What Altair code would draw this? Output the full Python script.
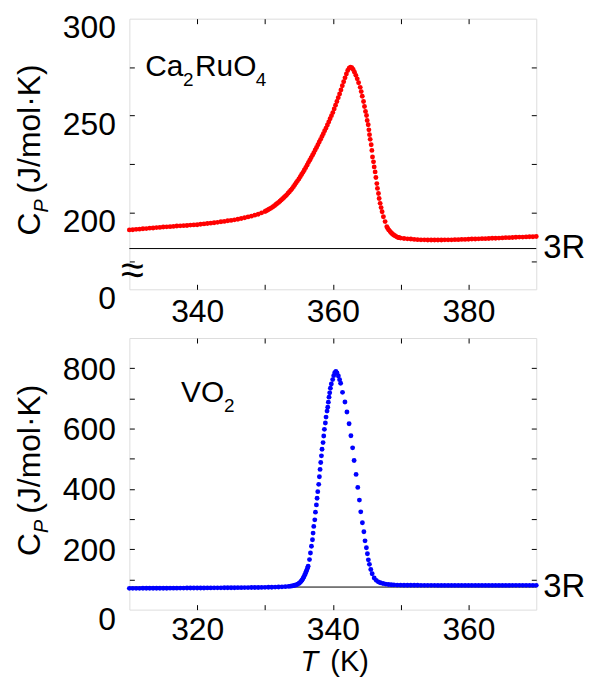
import altair as alt
import pandas as pd

FONT = "Liberation Sans"

# ---------------- Ca2RuO4 (top panel) ----------------
ca_T_left = [330.0, 330.5, 331.0, 331.5, 332.0, 332.5, 333.0, 333.5, 334.0, 334.5,
             335.0, 335.5, 336.0, 336.5, 337.0, 337.5, 338.0, 338.5, 339.0, 339.5,
             340.0, 340.5, 341.0, 341.5, 342.0, 342.5, 343.0, 343.5, 344.0, 344.5,
             345.0, 345.5, 346.0, 346.5, 347.0, 347.5, 348.0, 348.5, 349.0, 349.5, 350.0]
ca_Cp_left = [191.1, 191.2, 191.4, 191.5, 191.7, 191.8, 192.0, 192.1, 192.3, 192.4,
              192.6, 192.7, 192.8, 192.9, 193.1, 193.2, 193.3, 193.4, 193.6, 193.7,
              193.8, 194.0, 194.2, 194.4, 194.6, 194.8, 195.0, 195.3, 195.5, 195.8,
              196.0, 196.3, 196.6, 197.0, 197.4, 197.8, 198.2, 198.7, 199.2, 199.9, 200.6]

ca_T_rise = [350.2, 350.4, 350.6, 350.8, 351.0, 351.2, 351.4, 351.6, 351.8, 352.0,
             352.2, 352.4, 352.6, 352.8, 353.0, 353.2, 353.4, 353.6, 353.8, 354.0,
             354.2, 354.4, 354.6, 354.8, 355.0, 355.2, 355.4, 355.6, 355.8, 356.0,
             356.2, 356.4, 356.6, 356.8, 357.0, 357.2, 357.4, 357.6, 357.8, 358.0,
             358.2, 358.4, 358.6, 358.8, 359.0, 359.2, 359.4, 359.6, 359.8, 360.0,
             360.2, 360.4, 360.6, 360.8, 361.0, 361.2, 361.4, 361.6, 361.8, 362.0,
             362.2, 362.4, 362.6, 362.8, 363.0, 363.2, 363.4, 363.6, 363.8]
ca_Cp_rise = [201.0, 201.4, 201.8, 202.2, 202.6, 203.1, 203.6, 204.2, 204.7, 205.3,
              205.9, 206.5, 207.2, 207.8, 208.5, 209.2, 210.0, 210.8, 211.6, 212.4,
              213.4, 214.4, 215.4, 216.4, 217.4, 218.5, 219.7, 220.8, 222.0, 223.2,
              224.5, 225.8, 227.0, 228.3, 229.6, 230.9, 232.3, 233.6, 235.0, 236.4,
              237.8, 239.3, 240.7, 242.2, 243.6, 245.2, 246.8, 248.4, 250.0, 251.6,
              253.5, 255.4, 257.3, 259.3, 261.2, 263.3, 265.4, 267.5, 269.5, 271.5,
              273.3, 274.5, 275.0, 274.7, 273.8, 272.4, 270.8, 269.0, 267.0]

ca_T_fall = [364.04, 364.19, 364.34, 364.53, 364.67, 364.82, 364.97, 365.07, 365.22, 365.32,
             365.41, 365.51, 365.66, 365.76, 365.85, 366.00, 366.10, 366.24, 366.35, 366.49,
             366.58, 366.73, 366.83, 366.98, 367.12, 367.27, 367.46, 367.71, 367.96, 368.10,
             368.25, 368.44, 368.60, 368.75, 368.93, 369.10, 369.30, 369.50, 369.66, 369.80]
ca_Cp_fall = [264.6, 262.4, 260.0, 257.3, 254.7, 252.2, 250.1, 247.5, 245.3, 242.7,
              240.2, 237.8, 235.0, 232.1, 228.7, 226.2, 223.6, 221.0, 218.1, 215.0,
              212.5, 209.9, 207.3, 204.8, 202.6, 200.5, 197.9, 195.4, 192.8, 191.9,
              191.1, 190.3, 189.7, 189.1, 188.6, 188.2, 187.8, 187.4, 187.2, 187.1]

ca_T_right = [370.0, 370.5, 371.0, 371.5, 372.0, 372.5, 373.0, 373.5, 374.0, 374.5,
              375.0, 375.5, 376.0, 376.5, 377.0, 377.5, 378.0, 378.5, 379.0, 379.5,
              380.0, 380.5, 381.0, 381.5, 382.0, 382.5, 383.0, 383.5, 384.0, 384.5,
              385.0, 385.5, 386.0, 386.5, 387.0, 387.5, 388.0, 388.5, 389.0, 389.5, 390.0]
ca_Cp_right = [186.9, 186.7, 186.5, 186.4, 186.2, 186.1, 186.0, 186.0, 185.9, 185.9,
               185.9, 185.9, 185.9, 186.0, 186.0, 186.0, 186.1, 186.1, 186.2, 186.2,
               186.3, 186.4, 186.4, 186.5, 186.6, 186.6, 186.7, 186.8, 186.8, 186.9,
               187.0, 187.1, 187.1, 187.2, 187.3, 187.4, 187.4, 187.5, 187.6, 187.6, 187.7]

ca_3R = 181.5

# ---------------- VO2 (bottom panel) ----------------
vo_T_left = [310.0, 310.5, 311.0, 311.5, 312.0, 312.5, 313.0, 313.5, 314.0, 314.5,
             315.0, 315.5, 316.0, 316.5, 317.0, 317.5, 318.0, 318.5, 319.0, 319.5,
             320.0, 320.5, 321.0, 321.5, 322.0, 322.5, 323.0, 323.5, 324.0, 324.5,
             325.0, 325.5, 326.0, 326.5, 327.0, 327.5, 328.0, 328.5, 329.0, 329.5,
             330.0, 330.5, 331.0, 331.5, 332.0, 332.5, 333.0, 333.5]
vo_Cp_left = [70.5, 70.5, 70.6, 70.6, 70.7, 70.7, 70.8, 70.8, 70.9, 70.9,
              71.0, 71.0, 71.1, 71.2, 71.2, 71.3, 71.4, 71.5, 71.5, 71.6,
              71.7, 71.8, 71.8, 71.9, 72.0, 72.1, 72.1, 72.2, 72.3, 72.4,
              72.5, 72.6, 72.7, 72.8, 72.9, 73.1, 73.2, 73.3, 73.5, 73.6,
              73.8, 74.0, 74.3, 74.6, 75.0, 75.4, 76.0, 77.0]

vo_T_rise = [333.8, 334.0, 334.2, 334.4, 334.6, 334.8, 335.0, 335.15, 335.3, 335.45,
             335.6, 335.72, 335.84, 335.96, 336.06, 336.16, 336.26, 336.36, 336.56, 336.70,
             336.85, 337.00, 337.09, 337.19, 337.34, 337.44, 337.58, 337.68, 337.78, 337.92,
             338.02, 338.12, 338.22, 338.32, 338.41, 338.56, 338.66, 338.76, 338.90, 339.00,
             339.15, 339.25, 339.34, 339.44, 339.54, 339.64, 339.78, 339.98, 340.13, 340.28, 340.45]
vo_Cp_rise = [77.8, 78.6, 79.5, 80.6, 82.0, 84.0, 86.8, 89.5, 93.0, 97.5,
              103.0, 108.0, 114.0, 120.0, 125.5, 131.0, 137.5, 144.0, 165.8, 187.8,
              209.8, 231.7, 253.7, 275.7, 297.6, 322.9, 347.0, 369.0, 391.0, 415.1,
              440.4, 464.6, 487.6, 509.6, 531.6, 553.5, 575.5, 597.5, 618.3, 638.1,
              657.9, 671.0, 687.5, 704.0, 718.3, 733.6, 747.9, 762.2, 775.4, 785.0, 789.0]

vo_T_fall = [340.62, 340.82, 341.00, 341.15, 341.43, 341.79, 342.08, 342.40, 342.67, 342.92,
             343.14, 343.43, 343.68, 343.92, 344.12, 344.36, 344.58, 344.75, 344.95, 345.10,
             345.24, 345.40, 345.60, 345.80, 346.10, 346.40, 346.70, 347.00, 347.40, 347.80,
             348.20, 348.60, 349.00, 349.50]
vo_Cp_fall = [784.0, 774.0, 762.0, 750.0, 720.0, 688.0, 655.0, 616.0, 576.0, 536.0,
              494.0, 448.0, 405.0, 363.0, 324.0, 288.0, 258.0, 228.0, 205.0, 185.0,
              165.0, 150.0, 133.0, 119.0, 105.0, 97.0, 92.0, 89.0, 86.5, 84.5,
              83.3, 82.5, 81.9, 81.3]

vo_T_right = [350.0, 350.5, 351.0, 351.5, 352.0, 352.5, 353.0, 353.5, 354.0, 354.5,
              355.0, 355.5, 356.0, 356.5, 357.0, 357.5, 358.0, 358.5, 359.0, 359.5,
              360.0, 360.5, 361.0, 361.5, 362.0, 362.5, 363.0, 363.5, 364.0, 364.5,
              365.0, 365.5, 366.0, 366.5, 367.0, 367.5, 368.0, 368.5, 369.0, 369.5, 370.0]
vo_Cp_right = [81.0, 80.9, 80.8, 80.7, 80.6, 80.6, 80.5, 80.5, 80.4, 80.4,
               80.4, 80.3, 80.3, 80.3, 80.3, 80.2, 80.2, 80.2, 80.2, 80.2,
               80.2, 80.2, 80.2, 80.2, 80.2, 80.3, 80.3, 80.3, 80.3, 80.3,
               80.3, 80.3, 80.3, 80.4, 80.4, 80.4, 80.4, 80.4, 80.4, 80.4, 80.4]

vo_3R = 74.8

# tick / label values
ca_x_labels = [340, 360, 380]
ca_x_ticks = [340, 350, 360, 370, 380]
ca_y_labels = [160.5, 200, 250, 300]
ca_y_ticks = [175, 200, 225, 250, 275]
vo_x_labels = [320, 340, 360]
vo_x_ticks = [320, 330, 340, 350, 360]
vo_y_labels = [0, 200, 400, 600, 800]
vo_y_ticks = [100, 200, 300, 400, 500, 600, 700, 800]

W = 409
LABEL_SIZE = 32
TITLE_SIZE = 32


def frame(T, Cp):
    return pd.DataFrame({"T": T, "Cp": Cp})


ca_df = pd.concat([frame(ca_T_left, ca_Cp_left), frame(ca_T_rise, ca_Cp_rise),
                   frame(ca_T_fall, ca_Cp_fall), frame(ca_T_right, ca_Cp_right)])
vo_df = pd.concat([frame(vo_T_left, vo_Cp_left), frame(vo_T_rise, vo_Cp_rise),
                   frame(vo_T_fall, vo_Cp_fall), frame(vo_T_right, vo_Cp_right)])

one_row = alt.Data(values=[{"a": 1}])


def txt(x, y, s, size, dx=0, dy=0, style="normal", angle=0, align="left",
        baseline="alphabetic"):
    return alt.Chart(one_row).mark_text(
        text=s, fontSize=size, font=FONT, fontStyle=style, dx=dx, dy=dy,
        angle=angle, align=align, baseline=baseline, color="black"
    ).encode(x=alt.XDatum(x, axis=None), y=alt.YDatum(y, axis=None))


def tick_axis(orient, values):
    return alt.Axis(orient=orient, values=values, labels=False, domain=False,
                    grid=False, ticks=True, tickSize=5, tickColor="black",
                    tickWidth=1, offset=-5, title=None)


def panel(df, color, xdom, ydom, height, xlab, xticks, ylab, yticks,
          label_expr, label_offset, r3, extras, xpad):
    xs = alt.Scale(domain=xdom, nice=False, zero=False)
    ys = alt.Scale(domain=ydom, nice=False, zero=False)
    xlab_axis = alt.Axis(orient="bottom", values=xlab, ticks=False, tickSize=0,
                         domain=False, grid=False, labelPadding=xpad,
                         labelFontSize=LABEL_SIZE, labelFont=FONT,
                         labelColor="black", labelOverlap=False,
                         labelFlush=False, title=None)
    ykw = dict(orient="left", values=ylab, ticks=False, tickSize=0, domain=False,
               grid=False, labelPadding=14, labelFontSize=LABEL_SIZE,
               labelFont=FONT, labelColor="black", labelOverlap=False,
               labelOffset=label_offset, title=None)
    if label_expr:
        ykw["labelExpr"] = label_expr
    ylab_axis = alt.Axis(**ykw)

    base = alt.Chart(df)
    pts = base.mark_circle(size=24, color=color, opacity=1).encode(
        x=alt.X("T:Q", scale=xs, axis=xlab_axis),
        y=alt.Y("Cp:Q", scale=ys, axis=ylab_axis))
    ticks1 = base.mark_circle(opacity=0).encode(
        x=alt.X("T:Q", scale=xs, axis=tick_axis("bottom", xticks)),
        y=alt.Y("Cp:Q", scale=ys, axis=tick_axis("left", yticks)))
    ticks2 = base.mark_circle(opacity=0).encode(
        x=alt.X("T:Q", scale=xs, axis=tick_axis("top", xticks)),
        y=alt.Y("Cp:Q", scale=ys, axis=tick_axis("right", yticks)))
    rule = alt.Chart(one_row).mark_rule(color="black", strokeWidth=1).encode(
        y=alt.YDatum(r3, axis=None))
    r_label = txt(xdom[1], r3, "3R", 33, dx=7, baseline="middle")
    return alt.layer(ticks1, ticks2, rule, pts, r_label, *extras).resolve_axis(
        x="independent", y="independent").properties(width=W, height=height)


top_extras = [
    txt(332.35, 270.3, "Ca", 30),
    txt(332.35, 270.3, "2", 19, dx=38, dy=10),
    txt(332.35, 270.3, "RuO", 30, dx=50),
    txt(332.35, 270.3, "4", 19, dx=111, dy=10),
    txt(330, 170.0, "\u2248", 42, dx=3, align="center", baseline="middle"),
    txt(330, 188.2, "C", TITLE_SIZE, dy=-90, angle=270),
    txt(330, 200.05, "P", 20, dy=-82, angle=270, style="italic"),
    txt(330, 209.9, "(J/mol\u00b7K)", TITLE_SIZE, dy=-90, angle=270),
]
bot_extras = [
    txt(317.63, 688.6, "VO", 30),
    txt(317.63, 688.6, "2", 19, dx=43, dy=10),
    txt(310, 178.0, "C", TITLE_SIZE, dy=-90, angle=270),
    txt(310, 254.2, "P", 20, dy=-82, angle=270, style="italic"),
    txt(310, 317.8, "(J/mol\u00b7K)", TITLE_SIZE, dy=-90, angle=270),
    txt(335.24, 0, "T", 29, dy=62, style="italic"),
    txt(339.64, 0, "(K)", 29, dy=62),
]

top = panel(ca_df, "#ff0000", [330, 390], [160.5, 300], 272,
            ca_x_labels, ca_x_ticks, ca_y_labels, ca_y_ticks,
            "datum.value < 170 ? '0' : datum.label", 9, ca_3R, top_extras, 7)
bottom = panel(vo_df, "#0000ff", [310, 370], [0, 900], 273,
               vo_x_labels, vo_x_ticks, vo_y_labels, vo_y_ticks, None,
               {"condition": {"test": "datum.value == 0", "value": 10}, "value": 1},
               vo_3R, bot_extras, 5)

chart = alt.vconcat(top, bottom, spacing=9).properties(
    padding={"left": 5, "top": 1, "right": 0, "bottom": 0}
).configure_view(stroke="#000000", strokeWidth=1).configure(background="white")

chart.save("out.html", embed_options={"renderer": "svg", "actions": False})
